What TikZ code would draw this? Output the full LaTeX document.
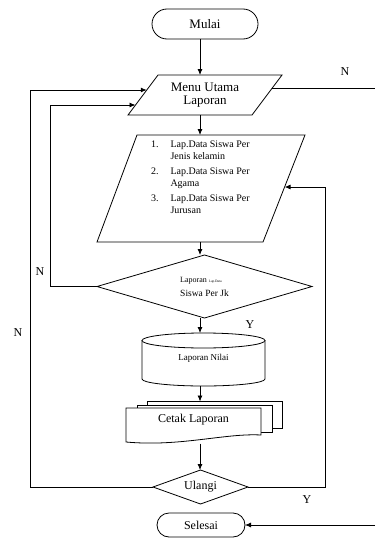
\documentclass[tikz,border=0pt]{standalone}
\usepackage{fontspec}
\setmainfont{Liberation Serif}
\usetikzlibrary{shapes.geometric,shapes.misc,arrows.meta,calc}

\begin{document}
\begin{tikzpicture}[x=1pt,y=-1pt,>={Latex[length=6pt,width=5pt]},line width=0.8pt,draw=black!100]
	\useasboundingbox (0,0) rectangle (375,538);
	\tikzstyle{t-node}=[rounded rectangle,draw=black!100,inner sep=0pt,outer sep=0pt,font=\fontsize{12}{13}\selectfont]
	\tikzstyle{d-node}=[diamond,draw=black!100,inner sep=0pt,outer sep=0pt,font=\fontsize{12}{13}\selectfont]
	\tikzstyle{s-node}=[rectangle,inner sep=0pt,outer sep=0pt,align=center]
	\tikzstyle{p-node}=[rectangle,draw=black!100,fill=white,inner sep=0pt,outer sep=0pt]
	\tikzstyle{annot}=[inner sep=0pt,font=\fontsize{12}{13}\selectfont]
	\tikzstyle{arr}=[->]
	\coordinate (col) at (200,0);
	\coordinate (edgeR) at (375,0);

	% terminals
	\node[t-node,minimum width=106,minimum height=30,font=\fontsize{13}{14}\selectfont] (mulai) at (205,24) {Mulai};
	\node[t-node,minimum width=88,minimum height=24] (selesai) at (201,525) {Selesai};

	% input / output
	\coordinate (m-tl) at (158,75);   \coordinate (m-tr) at (282,75);
	\coordinate (m-br) at (252,115);  \coordinate (m-bl) at (128,115);
	\draw (m-tl) -- (m-tr) -- (m-br) -- (m-bl) -- cycle;
	\node[s-node,minimum width=124,minimum height=40,font=\fontsize{13}{13}\selectfont] (menu) at (205,95) {Menu Utama\\Laporan};

	\coordinate (l-tl) at (137,135);  \coordinate (l-tr) at (305,135);
	\coordinate (l-br) at (263,242);  \coordinate (l-bl) at (97,242);
	\draw (l-tl) -- (l-tr) -- (l-br) -- (l-bl) -- cycle;
	\node[s-node,minimum width=166,minimum height=107] (list) at (201,188.5) {};
	\node[s-node,anchor=north west,align=left,font=\fontsize{10}{12}\selectfont] (listtxt) at (151,139) {%
		\begin{tabular}{@{}l@{\hspace{12pt}}l@{}}
		1. & Lap.Data Siswa Per\\
		   & Jenis kelamin\\[3pt]
		2. & Lap.Data Siswa Per\\
		   & Agama\\[3pt]
		3. & Lap.Data Siswa Per\\
		   & Jurusan
		\end{tabular}};

	% decisions
	\node[d-node,aspect=3.4,minimum width=215,minimum height=63,align=left] (lapjk) at (204.5,286.5)
		{{\fontsize{8}{9}\selectfont Laporan {\fontsize{3.5}{4}\selectfont Lap.Data}}\\[1pt]{\fontsize{9.5}{11}\selectfont Siswa Per Jk}};
	\node[d-node,aspect=2.8,minimum width=95,minimum height=34] (ulangi) at (200.5,487) {Ulangi};

	% stored data
	\draw (203.5,340.5) ellipse [x radius=61.5,y radius=7.5];
	\draw (142,340.5) -- (142,379) arc[start angle=180,end angle=0,x radius=61.5,y radius=7] -- (265,340.5);
	\node[s-node,minimum width=123,minimum height=53,font=\fontsize{9}{10}\selectfont] (nilai) at (203.5,359.5) {\raisebox{4pt}{Laporan Nilai}};

	% documents
	\node[p-node,minimum width=135,minimum height=26.5] (p3) at (214.5,414.75) {};
	\node[p-node,minimum width=135,minimum height=27] (p2) at (204.5,418.5) {};
	\draw[fill=white] (126,408) -- (261,408) -- (261,435) .. controls (225,433) and (180,447) .. (126,442) -- cycle;
	\node[s-node,minimum width=135,minimum height=27,font=\fontsize{12}{13}\selectfont] (cetak) at (193.5,420) {Cetak Laporan};

	% side points
	\coordinate (inA) at ($(m-tl)!0.375!(m-bl)$);
	\coordinate (inB) at ($(m-tl)!0.75!(m-bl)$);
	\coordinate (outA) at ($(m-tr)!0.325!(m-br)$);
	\coordinate (inC) at ($(l-tr)!0.486!(l-br)$);

	% labels
	\node[annot] (nmenu) at (345,72) {N};
	\node[annot] (njk) at (40,272) {N};
	\node[annot] (nulangi) at (18,333) {N};
	\node[annot] (yjk) at (250,325) {Y};
	\node[annot] (yulangi) at (307,500) {Y};

	\draw[arr] (mulai.south -| col) -- (menu.north -| col);
	\draw[arr] (menu.south -| col) -- (list.north -| col);
	\draw[arr] (list.south -| col) -- (lapjk.north -| col);
	\draw[arr] (lapjk.south -| col) -- (nilai.north -| col);
	\draw[arr] (nilai.south -| col) -- (p3.north -| col);
	\draw[arr] ($(cetak.south -| col)+(0,10)$) -- (ulangi.north -| col);

	\draw[arr] (ulangi.west) -- ++(-123,0) |- (inA);
	\draw[arr] (lapjk.west) -- ++(-47,0) |- (inB);
	\draw[arr] (ulangi.east) -- ++(77,0) |- (inC);
	\draw (outA) -- (outA -| edgeR);
	\draw[arr] (edgeR |- selesai) -- (selesai.east);
\end{tikzpicture}
\end{document}
